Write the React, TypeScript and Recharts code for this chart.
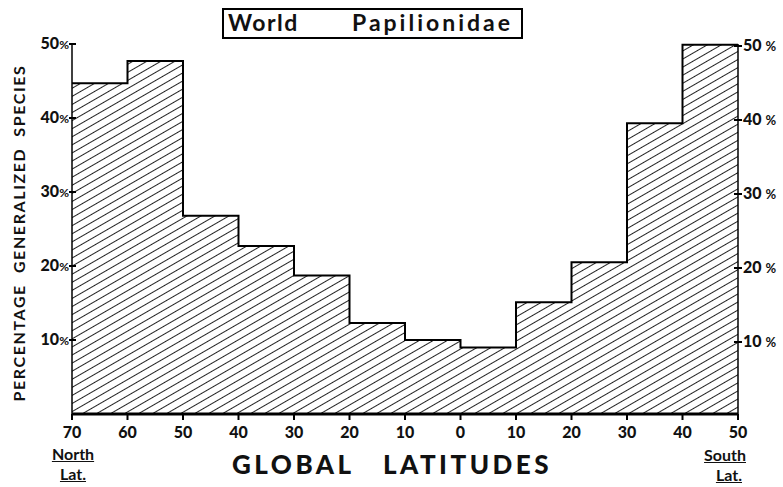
import React from 'react';
import { ComposedChart, Area, XAxis, YAxis } from 'recharts';

const latTickLabels = ['70', '60', '50', '40', '30', '20', '10', '0', '10', '20', '30', '40', '50'];
const latTickPos = [0, 10, 20, 30, 40, 50, 60, 70, 80, 90, 100, 110, 120];
const binPercent = [44.7, 47.7, 26.8, 22.7, 18.7, 12.3, 10.0, 9.0, 15.1, 20.5, 39.3, 49.9];
const yTicks = [10, 20, 30, 40, 50];

const data = latTickPos.map((x, i) => ({ x, v: binPercent[Math.min(i, binPercent.length - 1)] }));

const FONT = 'Lato, "DejaVu Sans", sans-serif';

const LeftTick = (props: any) => {
  const { x, y, payload } = props;
  return (
    <g>
      <line x1={x - 3} x2={x + 4} y1={y} y2={y} stroke="#000" strokeWidth={2} />
      <text x={x - 3} y={y} dy={5} textAnchor="end" fontFamily={FONT} fontWeight={900} fontSize={16} fill="#111">
        {payload.value}
        <tspan fontSize={12} fontWeight={700}>%</tspan>
      </text>
    </g>
  );
};

const RightTick = (props: any) => {
  const { x, y, payload } = props;
  return (
    <g>
      <line x1={x - 4} x2={x + 4} y1={y + 2} y2={y + 2} stroke="#000" strokeWidth={2} />
      <text x={x + 5} y={y + 2} dy={5} textAnchor="start" fontFamily={FONT} fontWeight={900} fontSize={16} fill="#111">
        {payload.value}
        <tspan dx={4} fontSize={13} fontWeight={700}>%</tspan>
      </text>
    </g>
  );
};

const BottomTick = (props: any) => {
  const { x, y, payload, index } = props;
  return (
    <g>
      <line x1={x} x2={x} y1={y - 2} y2={y + 4} stroke="#000" strokeWidth={2} />
      <text x={x} y={y + 22} textAnchor="middle" fontFamily={FONT} fontWeight={900} fontSize={16} fill="#111">
        {latTickLabels[index] ?? payload.value}
      </text>
    </g>
  );
};

const smallLabel = (left: number, top: number, width: number, align: 'center' | 'right', text: string, pr = 0) => (
  <div style={{
    position: 'absolute', left, top, width, textAlign: align, fontFamily: FONT,
    fontWeight: 700, fontSize: 16, lineHeight: '20px', color: '#111', paddingRight: pr, boxSizing: 'border-box',
  }}>
    <span style={{ textDecoration: 'underline' }}>{text}</span>
  </div>
);

export default function App() {
  return (
    <div style={{ position: 'absolute', left: 0, top: 0, width: 783, height: 487, background: '#fff' }}>
      <ComposedChart width={783} height={487} data={data} margin={{ top: 44, right: 0, bottom: 43, left: 0 }}>
        <defs>
          <pattern id="hatch" patternUnits="userSpaceOnUse" width={8} height={7} patternTransform="rotate(-30)">
            <line x1={0} y1={0.5} x2={8} y2={0.5} stroke="#222" strokeWidth={1} />
          </pattern>
        </defs>
        <XAxis
          type="number"
          dataKey="x"
          domain={[0, 120]}
          ticks={latTickPos}
          interval={0}
          axisLine={{ stroke: '#000', strokeWidth: 3 }}
          tickLine={false}
          tickSize={0}
          tick={<BottomTick />}
          height={30}
        />
        <YAxis
          yAxisId="left"
          orientation="left"
          domain={[0, 50]}
          ticks={yTicks}
          width={72}
          axisLine={{ stroke: '#000', strokeWidth: 1.5 }}
          tickLine={false}
          tickSize={0}
          tickMargin={0}
          tick={<LeftTick />}
        />
        <YAxis
          yAxisId="right"
          orientation="right"
          domain={[0, 50]}
          ticks={yTicks}
          width={45}
          axisLine={{ stroke: '#000', strokeWidth: 1.5 }}
          tickLine={false}
          tickSize={0}
          tickMargin={0}
          tick={<RightTick />}
        />
        <Area
          yAxisId="right"
          type="stepAfter"
          dataKey="v"
          stroke="none"
          fill="none"
          isAnimationActive={false}
          dot={false}
          activeDot={false}
        />
        <Area
          yAxisId="left"
          type="stepAfter"
          dataKey="v"
          stroke="#000"
          strokeWidth={2}
          fill="url(#hatch)"
          fillOpacity={1}
          isAnimationActive={false}
          dot={false}
          activeDot={false}
        />
      </ComposedChart>

      <div style={{
        position: 'absolute', left: 222, top: 8, width: 297, height: 27,
        border: '2px solid #000', boxSizing: 'content-box',
      }} />
      <div style={{
        position: 'absolute', left: 228, top: 9, fontFamily: FONT, fontWeight: 700, fontSize: 23,
        lineHeight: '27px', color: '#111', whiteSpace: 'pre', letterSpacing: 1.5,
      }}>
        World
      </div>
      <div style={{
        position: 'absolute', left: 352, top: 9, fontFamily: FONT, fontWeight: 700, fontSize: 23,
        lineHeight: '27px', color: '#111', whiteSpace: 'pre', letterSpacing: 3,
      }}>
        Papilionidae
      </div>

      <div style={{
        position: 'absolute', left: 18, top: 233, width: 0, height: 0,
      }}>
        <div style={{
          position: 'absolute', left: 0, top: 0, transform: 'translate(-50%, -50%) rotate(-90deg)',
          whiteSpace: 'pre', fontFamily: FONT, fontWeight: 700, fontSize: 16, letterSpacing: 1.6, color: '#111',
        }}>
          {'PERCENTAGE  GENERALIZED  SPECIES'}
        </div>
      </div>

      <div style={{
        position: 'absolute', left: 232, top: 449, whiteSpace: 'pre', fontFamily: FONT, fontWeight: 900,
        fontSize: 26, letterSpacing: 3.5, color: '#111', lineHeight: '30px',
      }}>
        {'GLOBAL   LATITUDES'}
      </div>

      {smallLabel(42, 444, 62, 'center', 'North')}
      {smallLabel(42, 464, 62, 'center', 'Lat.')}
      {smallLabel(684, 445, 62, 'right', 'South')}
      {smallLabel(684, 465, 62, 'right', 'Lat.', 4)}
    </div>
  );
}
